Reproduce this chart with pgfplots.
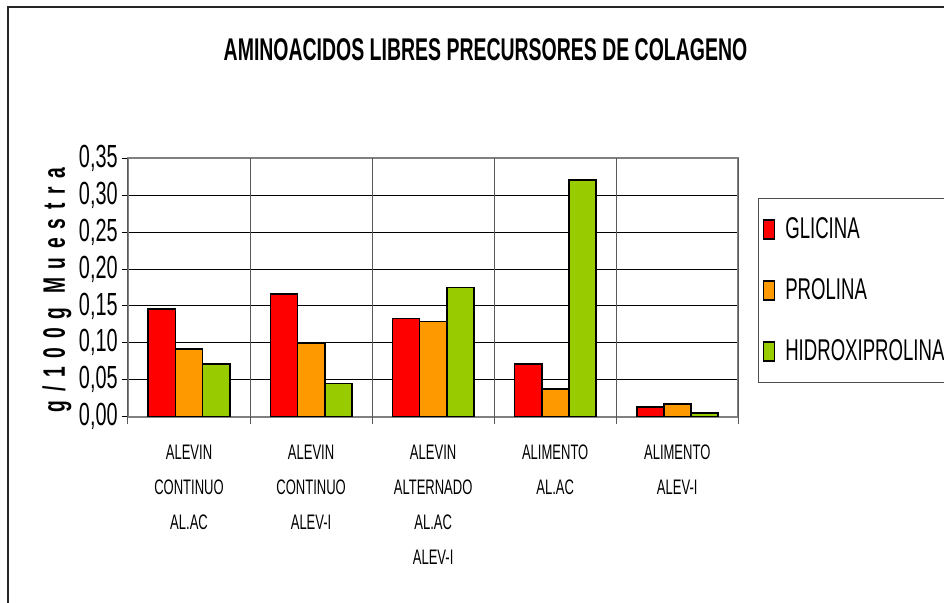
\documentclass[border=0pt]{standalone}
\usepackage{fontspec}
\setmainfont{Liberation Sans}[FakeStretch=0.62]
\newfontfamily\ylabfont{Liberation Sans}[FakeStretch=0.62, LetterSpace=28]
\usepackage{pgfplots}
\pgfplotsset{compat=1.18}

\definecolor{glic}{HTML}{FF0000}
\definecolor{prol}{HTML}{FF9900}
\definecolor{hidr}{HTML}{99CC00}

\begin{document}
\begin{tikzpicture}
\useasboundingbox (0,0) rectangle (472pt,301.5pt);
% marco exterior del grafico
\draw[black!85, line width=0.8pt] (4pt,-5pt) |- (490pt,298pt);
\node[font=\bfseries\fontsize{15.7}{15.7}\selectfont] at (242.75pt,276.5pt) {AMINOACIDOS LIBRES PRECURSORES DE COLAGENO};

\begin{axis}[
    at={(64pt,93.15pt)}, anchor=south west,
    scale only axis,
    width=305.15pt, height=129.2pt,
    ybar=0pt, bar width=0.222,
    xmin=-0.5, xmax=4.5,
    ymin=0, ymax=0.35,
    ytick={0,0.05,...,0.35},
    xtick={0,1,2,3,4},
    xticklabels={{ALEVIN\\CONTINUO\\AL.AC},{ALEVIN\\CONTINUO\\ALEV-I},{ALEVIN\\ALTERNADO\\AL.AC\\ALEV-I},{ALIMENTO\\AL.AC},{ALIMENTO\\ALEV-I}},
    tick pos=left,
    x tick style={draw=none},
    extra x ticks={-0.5,0.5,1.5,2.5,3.5,4.5},
    extra x tick labels={},
    extra x tick style={grid=major, major grid style={black!65, line width=0.5pt},
        x tick style={draw=black!65, line width=0.5pt}, major tick length=3.5pt},
    ymajorgrids=true,
    major grid style={black, line width=0.5pt},
    tick align=outside,
    major tick length=3pt,
    y tick style={black, line width=0.5pt},
    axis line style={black!50, line width=1pt},
    /pgf/number format/.cd, fixed, fixed zerofill, precision=2, use comma, assume math mode=true,
    /pgfplots/.cd,
    yticklabel style={font=\fontsize{16}{16}\selectfont, inner sep=0pt, xshift=-2pt},
    x tick label style={align=center, font=\fontsize{10.5}{17.5}\selectfont, inner sep=0pt, yshift=-11pt},
    ylabel={g/100g Muestra},
    every axis y label/.style={at={(axis description cs:-0.1163,0.49)}, rotate=90, anchor=center,
        font=\ylabfont\bfseries\fontsize{15.5}{15.5}\selectfont},
    legend style={at={(axis description cs:1.0323,0.8464)}, anchor=north west,
        draw=black!70, line width=0.5pt, font=\fontsize{15}{15}\selectfont,
        nodes={inner sep=2pt}, row sep=14.5pt, column sep=3pt,
        inner xsep=2pt, inner ysep=7.6pt},
    legend cell align=left,
    legend image code/.code={\draw[#1, line width=0.9pt] (0pt,-4.75pt) rectangle (5.5pt,4.75pt);},
]
\addplot[fill=glic, draw=black, line width=0.9pt] coordinates {
    (0,0.1455) (1,0.166) (2,0.133) (3,0.071) (4,0.0127)};
\addplot[fill=prol, draw=black, line width=0.9pt] coordinates {
    (0,0.0913) (1,0.100) (2,0.129) (3,0.0375) (4,0.0168)};
\addplot[fill=hidr, draw=black, line width=0.9pt] coordinates {
    (0,0.071) (1,0.045) (2,0.175) (3,0.3206) (4,0.0046)};
\legend{GLICINA,PROLINA,HIDROXIPROLINA}
\end{axis}
\end{tikzpicture}
\end{document}
